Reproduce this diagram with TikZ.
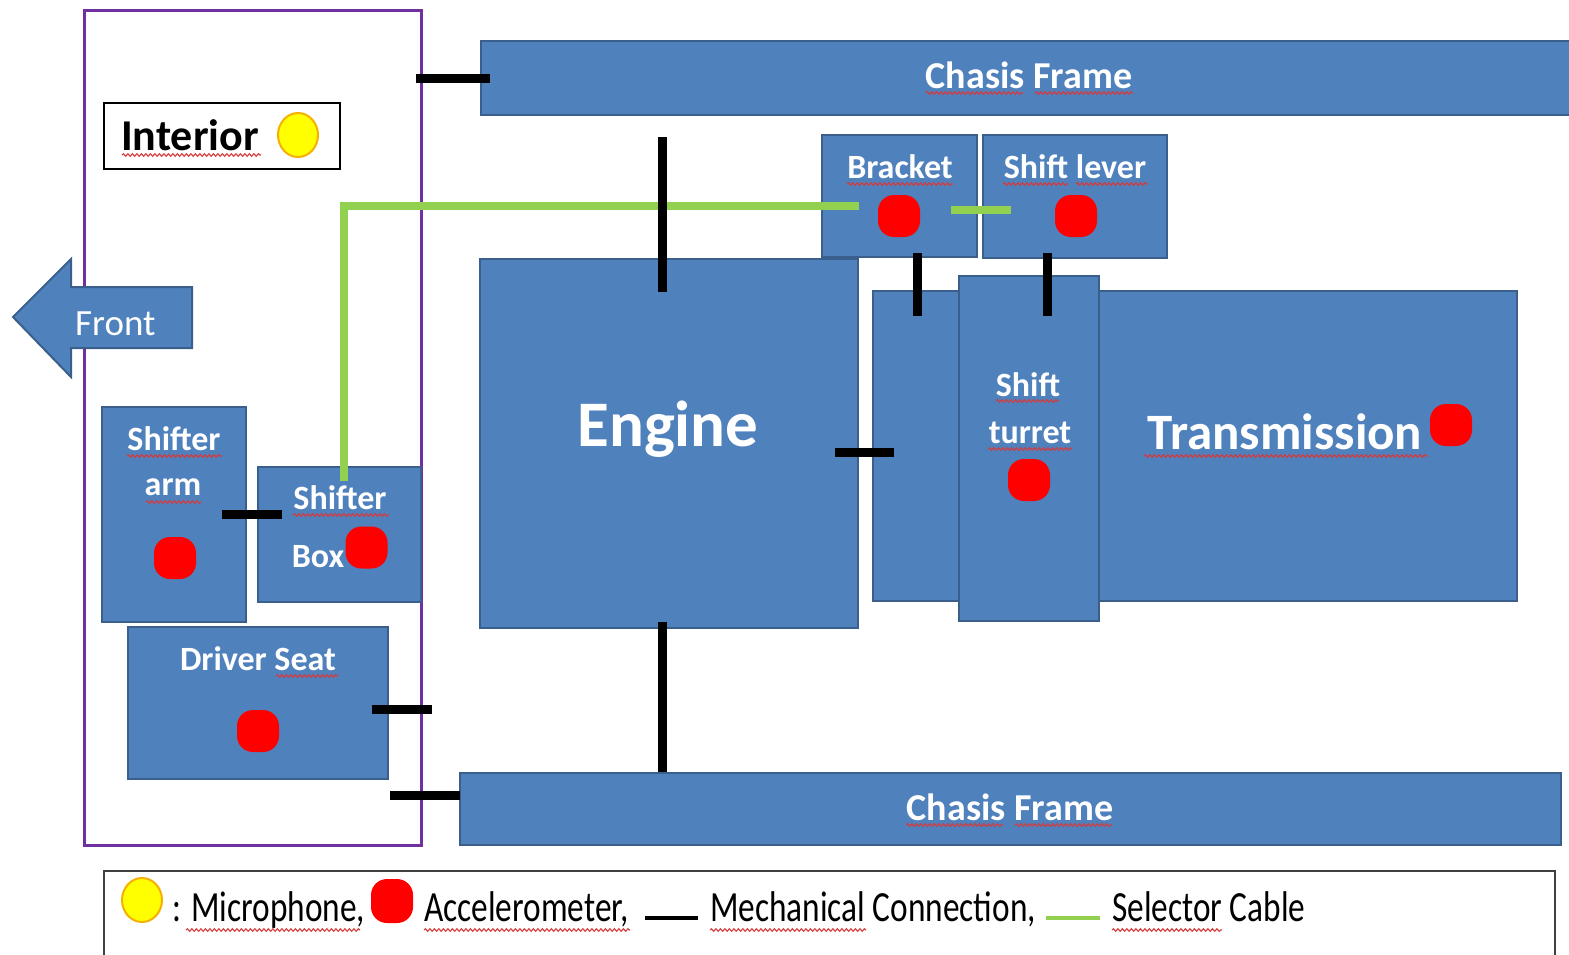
\documentclass[tikz,border=0pt]{standalone}
\usepackage{fontspec}
\setmainfont{Carlito}
\usetikzlibrary{decorations.pathmorphing,shapes.geometric}
\definecolor{blu}{HTML}{4F81BD}
\definecolor{bluD}{HTML}{3A5F8C}
\definecolor{grn}{HTML}{92D050}
\definecolor{purp}{HTML}{7030A0}
\definecolor{yel}{HTML}{FFFF00}
\definecolor{org}{HTML}{F5B000}
\definecolor{squig}{HTML}{D83A3A}
\definecolor{lgd}{HTML}{404040}
\tikzset{
  blk/.style={draw=bluD, fill=blu, line width=2pt, inner sep=0pt},
  lbl/.style={text=white, font=\bfseries\fontsize{34}{40}\selectfont, inner sep=0pt, anchor=base},
  acc/.style={fill=red, draw=none, minimum width=42pt, minimum height=42pt, rounded corners=16pt, inner sep=0pt},
  mic/.style={ellipse, fill=yel, draw=org, line width=2pt, minimum width=40pt, minimum height=44pt, inner sep=0pt},
  mech/.style={line width=9pt, black},
  cable/.style={line width=8pt, grn},
  wavy/.style={draw=squig, line width=1.1pt, decorate, decoration={snake, amplitude=1.3pt, segment length=4.5pt}},
  lgtxt/.style={anchor=base west, inner sep=0pt, text=black},
}
\newcommand\wavyline[3]{\draw[wavy] (#1,#3) -- (#2,#3);}
\newcommand\lgfont[1]{\scalebox{0.775}[1]{\fontsize{43}{48}\selectfont #1}}
\begin{document}
\begin{tikzpicture}[x=1pt,y=-1pt]
\useasboundingbox (0,0) rectangle (1569,954);
% Interior region
\node[draw=purp, line width=3pt, minimum width=337pt, minimum height=835pt, inner sep=0pt] (interior) at (252.5,427.5) {};
\node[draw=black, fill=white, line width=2pt, minimum width=236pt, minimum height=66pt, inner sep=0pt] (intbox) at (222,136) {};
\node[anchor=base west, inner sep=0pt, font=\bfseries\fontsize{44}{48}\selectfont] (inttxt) at (121,150) {Interior};
\node[mic] (intmic) at (298,135) {};
% Front arrow
\draw[blk] (13,317) -- (71,259) -- (71,287) -- (192,287) -- (192,348) -- (71,348) -- (71,377) -- cycle;
\node[anchor=base west, inner sep=0pt, text=white, font=\fontsize{37}{40}\selectfont] (front) at (75,335) {Front};
% Chassis frames
\node[blk, minimum width=1094pt, minimum height=74pt] (chTop) at (1028,78) {};
\node[lbl, font=\bfseries\fontsize{38}{40}\selectfont] (chTopT) at (1029,88) {Chasis Frame};
\node[blk, minimum width=1101pt, minimum height=72pt] (chBot) at (1010.5,809) {};
\node[lbl, font=\bfseries\fontsize{38}{40}\selectfont] (chBotT) at (1010,820) {Chasis Frame};
% Engine
\node[blk, minimum width=378pt, minimum height=369pt] (engine) at (669,443.5) {};
\node[lbl, font=\bfseries\fontsize{65}{70}\selectfont] (engT) at (668,446) {Engine};
% Transmission
\node[blk, minimum width=644pt, minimum height=310pt] (trans) at (1195,446) {};
\node[blk, minimum width=140pt, minimum height=345pt] (turret) at (1029,448.5) {};
\node[lbl] (turT1) at (1028,396) {Shift};
\node[lbl] (turT2) at (1030,443) {turret};
\node[acc] (turA) at (1029,480) {};
\node[lbl, font=\bfseries\fontsize{51}{55}\selectfont] (transT) at (1285,449) {Transmission};
\node[acc] (transA) at (1451,425) {};
% Bracket and shift lever
\node[blk, minimum width=155pt, minimum height=122pt] (bracket) at (899.5,196) {};
\node[lbl] (brT) at (900,178) {Bracket};
\node[acc] (brA) at (899,216) {};
\node[blk, minimum width=184pt, minimum height=123pt] (lever) at (1075,196.5) {};
\node[lbl] (lvT) at (1075,178) {Shift lever};
\node[acc] (lvA) at (1076,216) {};
% Interior components
\node[blk, minimum width=144pt, minimum height=215pt] (sarm) at (174,514.5) {};
\node[lbl] (saT1) at (174,450) {Shifter};
\node[lbl] (saT2) at (173,495) {arm};
\node[acc] (saA) at (175,558) {};
\node[blk, minimum width=163pt, minimum height=135pt] (sbox) at (339.5,534.5) {};
\node[lbl] (sbT1) at (340,509) {Shifter};
\node[lbl] (sbT2) at (318,567) {Box};
\node[acc] (sbA) at (366.5,547.5) {};
\node[blk, minimum width=260pt, minimum height=152pt] (seat) at (258,703) {};
\node[lbl] (seT) at (258,670) {Driver Seat};
\node[acc] (seA) at (258,731) {};
% Selector cable
\coordinate (c1) at (344,481);
\coordinate (c2) at (859,206);
\coordinate (c3) at (951,210);
\coordinate (c4) at (1011,210);
\draw[cable] (c1) |- (c2);
\draw[cable] (c3) -- (c4);
% Mechanical connections
\coordinate (m1a) at (416,78);   \coordinate (m1b) at (490,78);
\coordinate (m2a) at (662,137);  \coordinate (m2b) at (662,292);
\coordinate (m3a) at (662,622);  \coordinate (m3b) at (662,772);
\coordinate (m4a) at (835,452);  \coordinate (m4b) at (894,452);
\coordinate (m5a) at (917,253);  \coordinate (m5b) at (917,316);
\coordinate (m6a) at (1047,253); \coordinate (m6b) at (1047,316);
\coordinate (m7a) at (222,514.5);\coordinate (m7b) at (282,514.5);
\coordinate (m8a) at (372,709);  \coordinate (m8b) at (432,709);
\coordinate (m9a) at (390,795);  \coordinate (m9b) at (460,795);
\foreach \i in {1,...,9} {\draw[mech] (m\i a) -- (m\i b);}
% Spell-check underlines
\wavyline{122}{261}{155}
\wavyline{926}{1023}{93}\wavyline{1035}{1133}{93}
\wavyline{906}{1003}{825}\wavyline{1015}{1112}{825}
\wavyline{847}{953}{184}
\wavyline{1003}{1068}{184}\wavyline{1076}{1148}{184}
\wavyline{127}{222}{456}\wavyline{146}{201}{502}
\wavyline{293}{389}{515}
\wavyline{276}{338}{676}
\wavyline{996}{1059}{401}\wavyline{988}{1072}{449}
\wavyline{1144}{1428}{456}
% Legend
\draw[lgd, line width=2pt] (104,965) -- (104,871) -- (1555,871) -- (1555,965);
\node[mic] (lgMic) at (142,900) {};
\node[lgtxt] (lgT1) at (172,921) {\lgfont{: Microphone,}};
\node[acc, minimum height=44pt] (lgAcc) at (392,901) {};
\node[lgtxt] (lgT2) at (424,921) {\lgfont{Accelerometer,}};
\coordinate (lm1) at (645,918); \coordinate (lm2) at (698,918);
\draw[line width=4pt, black] (lm1) -- (lm2);
\node[lgtxt] (lgT3) at (710,921) {\lgfont{Mechanical Connection,}};
\coordinate (lc1) at (1046,918); \coordinate (lc2) at (1100,918);
\draw[line width=4pt, grn] (lc1) -- (lc2);
\node[lgtxt] (lgT4) at (1112,921) {\lgfont{Selector Cable}};
\wavyline{186}{360}{930}\wavyline{424}{630}{930}\wavyline{710}{866}{930}\wavyline{1112}{1222}{930}
\end{tikzpicture}
\end{document}
